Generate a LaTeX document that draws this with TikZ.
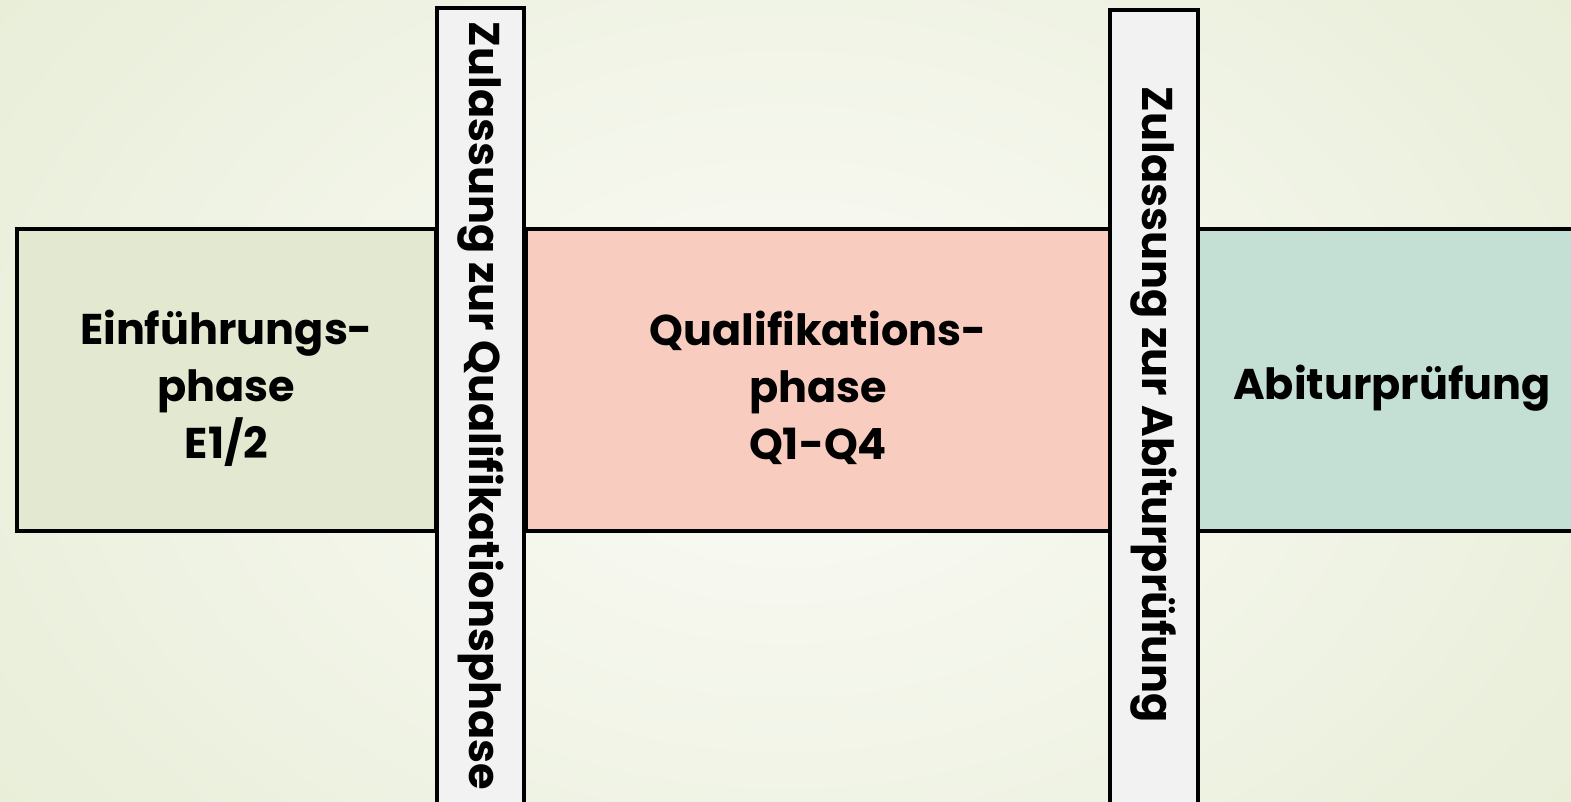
\documentclass[tikz,border=0pt]{standalone}
\usepackage{fontspec}
\setmainfont{Poppins}
\definecolor{bgin}{HTML}{FBFBF7}
\definecolor{bgout}{HTML}{E8EED8}
\definecolor{eph}{HTML}{E3E9D1}
\definecolor{qph}{HTML}{F8CCBF}
\definecolor{abi}{HTML}{C4DFD4}
\definecolor{barfill}{HTML}{F2F2F2}
\begin{document}
\begin{tikzpicture}[x=1pt,y=-1pt,
  phasebox/.style={draw=black, line width=3.2pt, rectangle, inner sep=0pt, minimum height=302pt},
  phasetext/.style={inner sep=0pt, align=center, font=\bfseries\fontsize{43}{57}\selectfont},
  gatebar/.style={draw=black, line width=3.2pt, rectangle, inner sep=0pt, fill=barfill},
  gatetext/.style={rotate=-90, inner sep=0pt, font=\bfseries\fontsize{43}{50}\selectfont}]
\useasboundingbox (0,0) rectangle (1571,802);
\clip (0,0) rectangle (1571,802);
\shade[inner color=bgin, outer color=bgout] (-200,-300) rectangle (1771,1102);
\node[phasebox, fill=eph, minimum width=419pt] (eph) at (226.5,380) {};
\node[phasebox, fill=qph, minimum width=584pt] (qph) at (818,380) {};
\node[phasebox, fill=abi, minimum width=392pt] (abi) at (1394,380) {};
\node[phasetext] (epht) at (226.5,388) {Einführungs-\\phase\\E1/2};
\node[phasetext] (qpht) at (818,388) {Qualifikations-\\phase\\Q1-Q4};
\node[phasetext] (abit) at (1392,388) {Abiturprüfung};
\node[gatebar, minimum width=87pt, minimum height=810pt] (bar1) at (480.5,413) {};
\node[gatebar, minimum width=88pt, minimum height=806pt] (bar2) at (1154,413) {};
\node[gatetext] (t1) at (480.5,406) {Zulassung zur Qualifikationsphase};
\node[gatetext] (t2) at (1154,405) {Zulassung zur Abiturprüfung};
\end{tikzpicture}
\end{document}
